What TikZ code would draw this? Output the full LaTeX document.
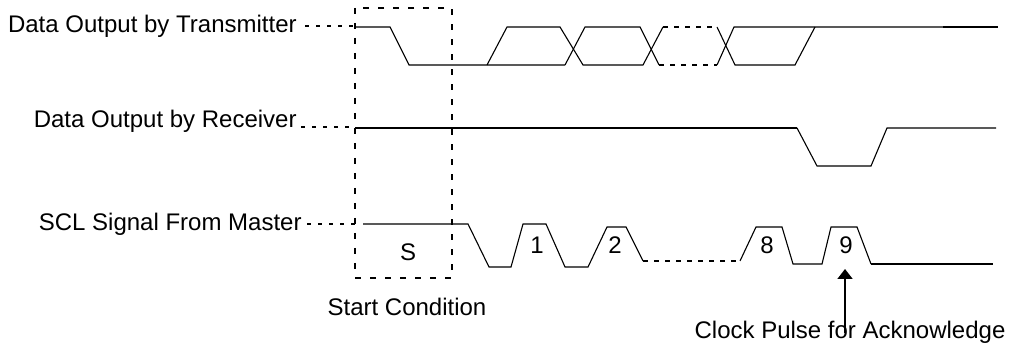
\documentclass[tikz,border=0pt]{standalone}
\usepackage{fontspec}
\setmainfont{Liberation Sans}
\usetikzlibrary{arrows.meta}
\begin{document}
\begin{tikzpicture}[x=0.5pt,y=-0.5pt,
  sig/.style={line width=0.55pt,line join=miter},
  sigdash/.style={line width=0.6pt,dash pattern=on 2.5pt off 3pt},
  lead/.style={line width=0.55pt,dash pattern=on 2pt off 3.5pt},
  boxdash/.style={line width=0.9pt,dash pattern=on 3pt off 4.5pt},
  lbl/.style={font=\fontsize{12}{14}\selectfont,inner sep=0pt},
  ackarrow/.style={line width=0.9pt,-{Triangle[width=7.5pt,length=5pt]}}]
\useasboundingbox (0,0) rectangle (1010,346);

% labels
\node[lbl,anchor=base east] (tx) at (297,33) {Data Output by Transmitter};
\node[lbl,anchor=base east] (rx) at (297,128) {Data Output by Receiver};
\node[lbl,anchor=base east] (scl) at (302,231) {SCL Signal From Master};
\node[lbl,anchor=base] (start) at (407,316) {Start Condition};
\node[lbl,anchor=base] (ack) at (850,339) {Clock Pulse for Acknowledge};
\node[lbl,anchor=base] (s) at (408,261) {S};
\node[lbl,anchor=base] (p1) at (537,254) {1};
\node[lbl,anchor=base] (p2) at (615,254) {2};
\node[lbl,anchor=base] (p8) at (767,254) {8};
\node[lbl,anchor=base] (p9) at (846,254) {9};

% leader coordinates
\coordinate (txend) at (355,26);
\coordinate (rxend) at (355,127);
\coordinate (sclend) at (355,224);
\draw[lead] ([xshift=4pt]tx.east |- txend) -- (txend);
\draw[lead] ([xshift=2pt]rx.east |- rxend) -- (rxend);
\draw[lead] ([xshift=2.5pt]scl.east |- sclend) -- (sclend);

% start condition box
\draw[boxdash] (355,8) rectangle (452,278);

% transmitter data
\draw[sig] (355,27) -- (390,27) -- (409,65) -- (565,65);
\draw[sig] (487,65) -- (507,27) -- (560,27) -- (583,65) -- (643,65) -- (663,27);
\draw[sig] (565,65) -- (585,27) -- (640,27) -- (659,65);
\draw[sigdash] (663,27) -- (717,27);
\draw[sigdash] (659,65) -- (717,65);
\draw[sig] (717,27) -- (735,65) -- (795,65) -- (815,27);
\draw[sig] (717,65) -- (734,27) -- (943,27);
\draw[line width=0.85pt] (943,27) -- (998,27);

% receiver data
\draw[line width=0.8pt] (355,128) -- (797,128);
\draw[sig] (797,128) -- (817,166) -- (871,166) -- (887,128) -- (996,128);

% SCL
\draw[sig] (363,224) -- (468,224) -- (489,267) -- (511,267) -- (523,224)
  -- (546,224) -- (565,267) -- (588,267) -- (607,227) -- (626,227) -- (643,261);
\draw[sigdash] (643,261) -- (740,261);
\draw[sig] (740,261) -- (756,227) -- (782,227) -- (793,264) -- (822,264)
  -- (831,227) -- (857,227) -- (871,264);
\draw[line width=0.8pt] (871,264) -- (993,264);

% acknowledge arrow
\coordinate (ackbot) at (845,333);
\coordinate (acktip) at (845,269);
\draw[ackarrow] (ackbot) -- (acktip);
\end{tikzpicture}
\end{document}
